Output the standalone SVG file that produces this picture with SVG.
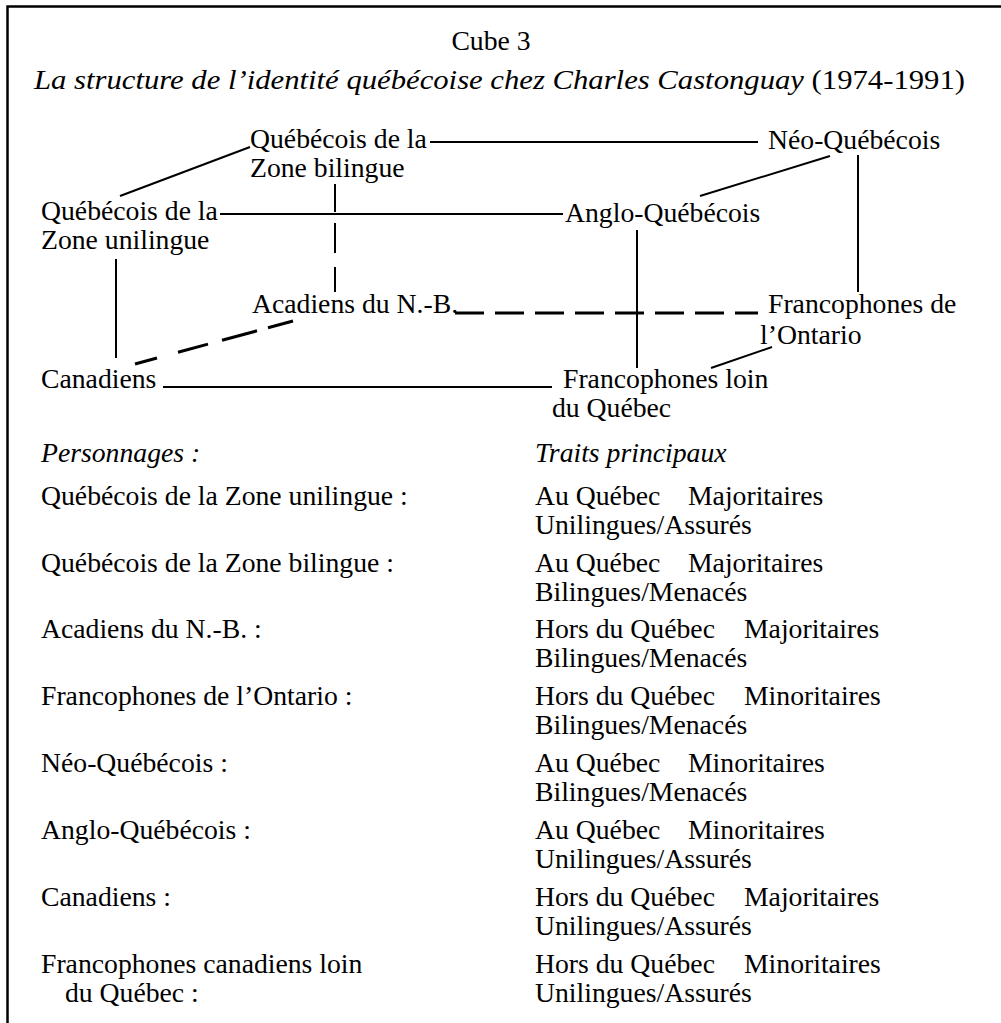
<svg xmlns="http://www.w3.org/2000/svg" width="1001" height="1023" viewBox="0 0 1001 1023">
<style>
text{font-family:"Liberation Serif","Times New Roman",serif;font-size:27.7px;fill:#000}
.it{font-style:italic}
.ln{stroke:#000;stroke-width:2;fill:none}
.dl{stroke:#000;stroke-width:3;fill:none}
</style>
<rect width="1001" height="1023" fill="#fff"/>
<path d="M7.5,1023 V6.5 H1001" stroke="#000" stroke-width="2.5" fill="none"/>
<g id="title">
<text x="491" y="50" text-anchor="middle">Cube 3</text>
<text x="34" y="89" textLength="931" lengthAdjust="spacingAndGlyphs"><tspan class="it">La structure de l’identité québécoise chez Charles Castonguay</tspan> (1974-1991)</text>
</g>
<g id="connectors">
<line class="ln" x1="430" y1="142" x2="758" y2="142"/>
<line class="ln" x1="250" y1="147" x2="120" y2="196"/>
<line class="ln" x1="220" y1="214" x2="563" y2="214"/>
<line class="ln" x1="830" y1="156" x2="700" y2="196"/>
<path class="ln" d="M335,184 V212 M335,223 V253 M335,267 V292"/>
<line class="ln" x1="116" y1="259" x2="116" y2="358"/>
<path class="dl" d="M293,321 L268,327.8 M257,330.8 L222,340.3 M208,344.1 L178,352.3 M157,358 L135,364"/>
<line class="dl" x1="455" y1="313" x2="758" y2="313" stroke-dasharray="29 11"/>
<line class="ln" x1="637" y1="230" x2="637" y2="368"/>
<line class="ln" x1="858" y1="155" x2="858" y2="292"/>
<line class="ln" x1="163" y1="387" x2="552" y2="387"/>
<line class="ln" x1="772" y1="347" x2="711" y2="368"/>
</g>
<g id="n-qzb"><text x="250" y="148">Québécois de la</text><text x="250" y="177">Zone bilingue</text></g>
<g id="n-neo"><text x="768" y="149">Néo-Québécois</text></g>
<g id="n-qzu"><text x="41" y="220">Québécois de la</text><text x="41" y="249">Zone unilingue</text></g>
<g id="n-anglo"><text x="565" y="222">Anglo-Québécois</text></g>
<g id="n-acad"><text x="252" y="313">Acadiens du N.-B.</text></g>
<g id="n-fonta"><text x="768" y="313">Francophones de</text><text x="760" y="344">l’Ontario</text></g>
<g id="n-can"><text x="41" y="388">Canadiens</text></g>
<g id="n-floin"><text x="563" y="388">Francophones loin</text><text x="552" y="417">du Québec</text></g>
<g id="legend">
<text class="it" x="41" y="462">Personnages :</text>
<text class="it" x="535" y="462">Traits principaux</text>
<text x="41" y="505">Québécois de la Zone unilingue :</text>
<text x="535" y="505">Au Québec<tspan x="688">Majoritaires</tspan></text>
<text x="535" y="534">Unilingues/Assurés</text>
<text x="41" y="572">Québécois de la Zone bilingue :</text>
<text x="535" y="572">Au Québec<tspan x="688">Majoritaires</tspan></text>
<text x="535" y="601">Bilingues/Menacés</text>
<text x="41" y="638">Acadiens du N.-B. :</text>
<text x="535" y="638">Hors du Québec<tspan x="744">Majoritaires</tspan></text>
<text x="535" y="667">Bilingues/Menacés</text>
<text x="41" y="705">Francophones de l’Ontario :</text>
<text x="535" y="705">Hors du Québec<tspan x="744">Minoritaires</tspan></text>
<text x="535" y="734">Bilingues/Menacés</text>
<text x="41" y="772">Néo-Québécois :</text>
<text x="535" y="772">Au Québec<tspan x="688">Minoritaires</tspan></text>
<text x="535" y="801">Bilingues/Menacés</text>
<text x="41" y="839">Anglo-Québécois :</text>
<text x="535" y="839">Au Québec<tspan x="688">Minoritaires</tspan></text>
<text x="535" y="868">Unilingues/Assurés</text>
<text x="41" y="906">Canadiens :</text>
<text x="535" y="906">Hors du Québec<tspan x="744">Majoritaires</tspan></text>
<text x="535" y="935">Unilingues/Assurés</text>
<text x="41" y="973">Francophones canadiens loin</text>
<text x="65" y="1002">du Québec :</text>
<text x="535" y="973">Hors du Québec<tspan x="744">Minoritaires</tspan></text>
<text x="535" y="1002">Unilingues/Assurés</text>
</g>
</svg>
